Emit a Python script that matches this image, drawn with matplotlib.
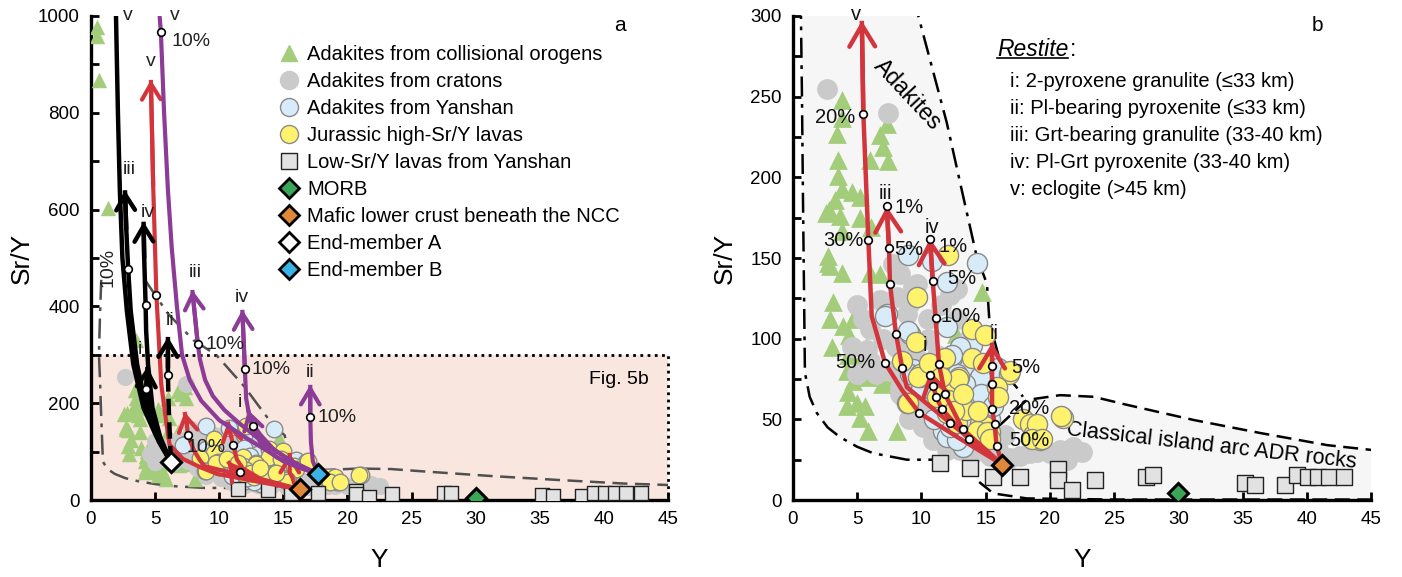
import matplotlib
matplotlib.use('Agg')
import matplotlib.pyplot as plt
from matplotlib.lines import Line2D
import numpy as np

plt.rcParams['font.family'] = ['Liberation Sans', 'DejaVu Sans']

# ---- samples: (Y ppm, Sr/Y) ----
collisional = [(0.47, 977), (0.5, 958), (0.62, 868), (1.3, 603), (3.53, 330),
               (3.79, 248), (3.79, 237), (3.4, 227), (7.3, 233), (6.78, 226),
               (7.03, 219), (6.0, 211), (7.4, 210), (3.5, 211), (3.5, 201),
               (3.8, 193), (4.57, 191), (5.2, 188), (3.27, 186), (2.6, 178),
               (3.66, 176), (5.2, 175), (6.1, 169), (3.8, 167), (2.7, 151),
               (2.75, 147), (3.8, 141), (6.0, 141), (6.78, 140), (3.14, 123),
               (2.9, 112), (4.7, 112), (3.9, 108), (4.4, 102), (3.0, 95),
               (5.7, 95), (4.3, 90), (4.96, 83), (4.2, 80), (4.7, 74),
               (5.86, 76), (6.9, 72), (7.55, 74), (7.8, 82), (4.3, 67),
               (4.2, 58), (4.96, 60), (5.6, 58), (5.2, 51), (5.86, 43),
               (8.1, 43), (14.7, 129), (12.7, 103), (2.8, 180), (2.9, 145)]
cratons = [(2.62, 255), (7.42, 240), (7.8, 146), (6.78, 124), (9.1, 122),
           (5.48, 112), (4.57, 95), (5.74, 93), (6.5, 78), (4.96, 78),
           (7.55, 80), (8.33, 70), (8.6, 64), (10.15, 45), (10.9, 37),
           (11.97, 33), (14.04, 29), (15.3, 27), (16.9, 26), (18.46, 29),
           (20.0, 29), (21.05, 30), (14.3, 83), (13.8, 101), (9.37, 132),
           (8.33, 140), (9.63, 134), (12.2, 127), (8.86, 115), (13.4, 97),
           (12.75, 131), (8.07, 126), (7.17, 123), (20.8, 31), (21.8, 33),
           (21.3, 25), (19.0, 30), (17.7, 27), (13.0, 31), (13.8, 29),
           (12.0, 31), (9.1, 68), (8.3, 66), (11.2, 90), (12.3, 70),
           (15.0, 60), (16.5, 40), (10.5, 100), (7.0, 100), (22.5, 30),
           (10.0, 60), (11.0, 45), (12.5, 50), (14.0, 40), (15.0, 35),
           (16.0, 31), (9.5, 90), (10.5, 112), (11.5, 121), (12.8, 112),
           (8.0, 95), (6.0, 106), (5.0, 121), (6.0, 86), (9.0, 50)]
yanshan = [(8.98, 152), (10.8, 148), (14.3, 147), (11.97, 135), (7.3, 115),
           (9.1, 103), (11.97, 107), (13.9, 96), (13.0, 89), (14.04, 81),
           (16.0, 82), (7.17, 114), (8.98, 105), (13.0, 95), (13.8, 83),
           (12.75, 78), (13.9, 72), (13.9, 64), (13.0, 58), (14.8, 54),
           (13.26, 33), (11.7, 43), (9.37, 81), (10.0, 69), (13.26, 63),
           (13.8, 60), (14.0, 69), (14.56, 76), (12.0, 39), (12.75, 37),
           (14.8, 52), (15.3, 50), (9.9, 76), (9.1, 78), (12.4, 90),
           (13.4, 72), (14.6, 66), (15.6, 58), (12.2, 45), (11.0, 50)]
jurassic = [(12.1, 152), (9.63, 126), (9.58, 98), (13.9, 106), (14.95, 102),
            (8.47, 86), (9.9, 78), (11.84, 88), (12.9, 76), (13.9, 88),
            (14.8, 85), (16.8, 78), (11.84, 70), (11.2, 64), (8.86, 60),
            (11.97, 54), (12.75, 48), (15.86, 70), (16.0, 64), (14.56, 48),
            (14.95, 46), (17.9, 50), (18.46, 47), (16.9, 80), (19.2, 37),
            (21.05, 51), (18.7, 40), (14.3, 43), (15.3, 42), (13.5, 56),
            (8.98, 60), (9.76, 76), (12.87, 75), (12.1, 62), (12.5, 55),
            (15.1, 42), (15.34, 38), (19.0, 47), (18.6, 38), (20.9, 52),
            (19.4, 38), (10.6, 85), (11.5, 76), (13.2, 66), (14.4, 55)]
low_sry = [(11.45, 23), (15.6, 14.4), (17.7, 14.4), (20.66, 19), (20.66, 12.4),
           (21.7, 6.2), (23.5, 12.4), (27.5, 14.4), (28.06, 15.5), (35.2, 10.3),
           (36.0, 9.3), (38.3, 9.3), (39.2, 15.5), (40.1, 14.4), (40.9, 14.4),
           (41.7, 14.4), (42.9, 14.4), (13.8, 20)]
morb = (30.0, 4.5)
mafic_crust = (16.3, 22.0)
member_a = (6.23, 78.0)
member_b = (17.7, 54.0)

# ---- melting-model paths (restite i-v) ----
red_paths = {
    'v':   [(16.3, 22), (13.0, 38), (9.84, 54), (8.5, 68), (7.17, 85), (6.13, 114),
            (5.87, 161), (5.48, 239), (5.1, 424), (4.85, 650), (4.67, 868)],
    'iii': [(16.3, 22), (12.2, 48), (8.86, 70), (8.5, 82), (8.02, 103), (7.55, 134),
            (7.48, 156), (7.3, 182)],
    'iv':  [(16.3, 22), (13.2, 44), (11.84, 65.5), (11.37, 84), (11.1, 113),
            (10.88, 136), (10.67, 162)],
    'i':   [(16.3, 22), (13.7, 37.6), (11.6, 56.4), (11.14, 64), (10.93, 70.7),
            (10.67, 80)],
    'ii':  [(16.3, 22), (15.85, 33.5), (15.7, 47), (15.5, 56.4), (15.5, 72),
            (15.5, 83), (15.5, 97.5)],
}
purple_paths = {
    'v':   [(17.7, 54), (15.0, 80), (13.9, 99), (12.0, 130), (10.0, 165), (8.6, 205),
            (7.7, 248), (7.1, 300), (6.7, 400), (6.3, 520), (6.0, 640), (5.7, 800),
            (5.45, 967), (5.35, 1000)],
    'iii': [(17.7, 54), (15.5, 82), (13.2, 124), (11.5, 160), (10.4, 186), (9.5, 215),
            (8.9, 248), (8.5, 290), (8.33, 322), (7.9, 434)],
    'iv':  [(17.7, 54), (16.0, 75), (14.3, 103), (13.2, 135), (12.4, 165), (12.1, 210),
            (12.0, 271), (11.8, 393)],
    'i':   [(17.7, 54), (16.3, 66), (14.5, 88), (13.3, 114), (12.6, 153), (12.25, 186)],
    'ii':  [(17.7, 54), (17.3, 80), (17.15, 120), (17.1, 172), (17.1, 238)],
}
black_paths = {
    'v':   [(6.23, 78), (5.1, 131), (4.1, 190), (3.3, 280), (2.8, 390), (2.45, 500),
            (2.25, 640), (2.1, 800), (1.95, 1000)],
    'iii': [(6.23, 78), (5.2, 130), (4.3, 190), (3.6, 280), (3.1, 390), (2.9, 477),
            (2.75, 560), (2.65, 640)],
    'iv':  [(6.23, 78), (5.4, 130), (4.8, 190), (4.45, 280), (4.3, 350), (4.26, 403),
            (4.15, 500), (4.1, 575)],
    'i':   [(6.23, 78), (5.3, 120), (4.7, 170), (4.3, 229), (4.4, 275)],
    'ii':  [(6.23, 78), (6.05, 200), (6.0, 258), (6.0, 337)],
}
# melt-fraction ticks
red_ticks_a = [(5.1, 424), (7.55, 134), (11.1, 113), (11.6, 58)]
red_ticks_b = [(5.48, 239), (5.87, 161), (7.17, 85), (7.3, 182), (7.48, 156),
               (7.55, 134), (8.02, 103), (8.5, 82), (9.84, 54), (12.2, 48),
               (10.67, 162), (10.88, 136), (11.1, 113), (11.37, 84), (11.84, 65.5),
               (13.2, 44), (10.67, 77.5), (10.93, 70.7), (11.14, 64), (11.6, 56.4),
               (13.7, 37.6), (15.5, 83), (15.5, 72), (15.5, 56.4), (15.7, 47),
               (15.85, 33.5)]
purple_ticks = [(5.45, 967), (8.33, 322), (12.0, 271), (12.6, 153), (17.1, 172)]
black_ticks = [(2.9, 477), (4.26, 403), (4.3, 229), (6.0, 258)]

# ---- field outlines ----
adakite_left = [(0.8, 455), (0.7, 380), (0.62, 300), (0.7, 250), (0.78, 186),
                (0.93, 79), (1.3, 64), (1.85, 54), (2.7, 45), (3.66, 39), (5.0, 33),
                (6.25, 29), (8.86, 25), (11.45, 25), (13.5, 27)]
adakite_right = [(4.2, 455), (6.0, 385), (8.0, 330), (9.76, 300), (11.97, 234),
                 (13.2, 190), (14.3, 151), (15.1, 134), (15.3, 110), (16.36, 79),
                 (17.4, 70), (17.9, 64)]
adr_top = [(17.9, 64), (18.2, 62), (20.8, 65), (23.4, 64), (26.0, 59), (31.2, 49.6),
           (36.4, 41.5), (41.6, 34), (45.1, 31)]
adr_left = [(13.5, 27), (14.0, 24), (14.3, 12.4), (15.6, 4.1), (18.2, 1), (25, 0.3),
            (45.1, 0.3)]

legend_labels = ['Adakites from collisional orogens', 'Adakites from cratons',
                 'Adakites from Yanshan', 'Jurassic high-Sr/Y lavas',
                 'Low-Sr/Y lavas from Yanshan', 'MORB',
                 'Mafic lower crust beneath the NCC', 'End-member A', 'End-member B']
restite_lines = ['i: 2-pyroxene granulite (≤33 km)', 'ii: Pl-bearing pyroxenite (≤33 km)',
                 'iii: Grt-bearing granulite (33-40 km)', 'iv: Pl-Grt pyroxenite (33-40 km)',
                 'v: eclogite (>45 km)']

GREEN = '#a4cd7b'
GRAY = '#cacaca'
LBLUE = '#d7ebf8'
YELLOW = '#fff36e'
SQ = '#e2e2e2'
RED = '#d2353b'
PURPLE = '#8c3b96'
PINK = '#f9e6df'


def xy(pts):
    a = np.array(pts, dtype=float)
    return a[:, 0], a[:, 1]


def draw_path(ax, pts, color, lw, head=True, ls='-', ms=20):
    x, y = xy(pts)
    ax.plot(x, y, color=color, lw=lw, ls=ls, solid_capstyle='butt',
            solid_joinstyle='round', zorder=6)
    if head:
        ax.annotate('', xy=(x[-1], y[-1]), xytext=(x[-2], y[-2]),
                    arrowprops=dict(arrowstyle='->,head_length=0.7,head_width=0.42',
                                    color=color, lw=lw, shrinkA=0, shrinkB=0,
                                    mutation_scale=ms), zorder=6)


def ticks(ax, pts):
    x, y = xy(pts)
    ax.plot(x, y, 'o', ms=5.5, mfc='white', mec='black', mew=1.2, zorder=8)


def scatter_all(ax, k):
    x, y = xy(collisional)
    ax.scatter(x, y, marker='^', s=130 * k, c=GREEN, lw=0, zorder=3)
    x, y = xy(cratons)
    ax.scatter(x, y, marker='o', s=160 * k, c=GRAY, lw=0, zorder=3)
    x, y = xy(yanshan)
    ax.scatter(x, y, marker='o', s=150 * k, c=LBLUE, edgecolors='#8a8a8a', lw=1, zorder=4)
    x, y = xy(jurassic)
    ax.scatter(x, y, marker='o', s=150 * k, c=YELLOW, edgecolors='#8a8a8a', lw=1, zorder=4)
    x, y = xy(low_sry)
    ax.scatter(x, y, marker='s', s=105 * k, c=SQ, edgecolors='#222222', lw=1, zorder=4)
    ax.plot(*morb, 'D', ms=10, mfc='#3aa757', mec='black', mew=2.2, zorder=9)
    ax.plot(*mafic_crust, 'D', ms=10, mfc='#e0883a', mec='black', mew=2.2, zorder=9)


def style(ax, ymax, ymajor, yminor, ypad):
    ax.set_xlim(0, 45)
    ax.set_ylim(0, ymax)
    for s in ('top', 'right'):
        ax.spines[s].set_visible(False)
    for s in ('left', 'bottom'):
        ax.spines[s].set_linewidth(2.4)
    ax.set_xticks(np.arange(0, 46, 5))
    ax.set_yticks(np.arange(0, ymax + 1, ymajor))
    ax.set_yticks(np.arange(0, ymax + 1, yminor), minor=True)
    ax.tick_params(which='both', direction='in', length=6, width=2, labelsize=13.5, pad=8)
    ax.set_xlabel('Y', fontsize=19, labelpad=14)
    ax.set_ylabel('Sr/Y', fontsize=19, labelpad=ypad)


fig = plt.figure(figsize=(14.02, 5.77), dpi=100)
ax_a = fig.add_axes([0.0649, 0.1334, 0.4116, 0.8389])
ax_b = fig.add_axes([0.5656, 0.1334, 0.4123, 0.8389])

# ================= panel a =================
ax_a.axhspan(0, 300, color=PINK, lw=0, zorder=0)
ax_a.plot([0, 45, 45], [300, 300, 0], color='black', ls=(0, (1, 1.6)), lw=2, zorder=1,
          clip_on=False)
ax_a.text(41.2, 248, 'Fig. 5b', fontsize=14, ha='center', va='center')
x, y = xy(adakite_left)
ax_a.plot(x, y, color='#505050', lw=1.8, ls=(0, (8, 3, 1.5, 3)), zorder=2)
x, y = xy(adakite_right)
ax_a.plot(x, y, color='#505050', lw=1.8, ls=(0, (8, 3, 1.5, 3)), zorder=2)
x, y = xy(adr_top)
ax_a.plot(x, y, color='#505050', lw=1.8, ls=(0, (6, 3)), zorder=2)
scatter_all(ax_a, 0.95)

for name, pts in red_paths.items():
    draw_path(ax_a, pts, RED, 3, ms=16)
for name, pts in purple_paths.items():
    draw_path(ax_a, pts, PURPLE, 3, head=(name != 'v'), ms=16)
for name, pts in black_paths.items():
    draw_path(ax_a, pts, 'black', 3.2, head=(name != 'v'), ls=('--' if name == 'ii' else '-'),
              ms=16)
ticks(ax_a, red_ticks_a + purple_ticks + black_ticks)
ax_a.plot(*member_a, 'D', ms=10, mfc='white', mec='black', mew=2.2, zorder=9)
ax_a.plot(*member_b, 'D', ms=10, mfc='#3bb2e6', mec='black', mew=2.2, zorder=9)

lab = dict(fontsize=14, color='#222222', zorder=10)
ax_a.text(2.9, 1000, 'v', ha='center', va='center', **lab)
ax_a.text(6.5, 1000, 'v', ha='center', va='center', **lab)
ax_a.text(6.3, 948, '10%', ha='left', va='center', **lab)
ax_a.text(4.67, 905, 'v', ha='center', va='center', **lab)
ax_a.text(2.96, 682, 'iii', ha='center', va='center', **lab)
ax_a.text(4.44, 593, 'iv', ha='center', va='center', **lab)
ax_a.text(1.3, 480, '10%', rotation=90, ha='center', va='center', **lab)
ax_a.text(8.1, 471, 'iii', ha='center', va='center', **lab)
ax_a.text(8.9, 322, '10%', ha='left', va='center', **lab)
ax_a.text(11.76, 419, 'iv', ha='center', va='center', **lab)
ax_a.text(12.5, 269, '10%', ha='left', va='center', **lab)
ax_a.text(6.15, 370, 'ii', ha='center', va='center', **lab)
ax_a.text(3.8, 310, 'i', ha='center', va='center', **lab)
ax_a.text(17.1, 264, 'ii', ha='center', va='center', **lab)
ax_a.text(17.7, 171, '10%', ha='left', va='center', **lab)
ax_a.text(11.6, 202, 'i', ha='center', va='center', **lab)
ax_a.text(9.0, 108, '10%', ha='center', va='center', **lab)
ax_a.text(0.917, 0.981, 'a', transform=ax_a.transAxes, fontsize=15, ha='center', va='center')

handles = [
    Line2D([], [], ls='none', marker='^', ms=12, mfc=GREEN, mec=GREEN),
    Line2D([], [], ls='none', marker='o', ms=13, mfc=GRAY, mec=GRAY),
    Line2D([], [], ls='none', marker='o', ms=13, mfc=LBLUE, mec='#8a8a8a'),
    Line2D([], [], ls='none', marker='o', ms=13, mfc=YELLOW, mec='#8a8a8a'),
    Line2D([], [], ls='none', marker='s', ms=11, mfc=SQ, mec='#222222'),
    Line2D([], [], ls='none', marker='D', ms=10, mfc='#3aa757', mec='black', mew=2),
    Line2D([], [], ls='none', marker='D', ms=10, mfc='#e0883a', mec='black', mew=2),
    Line2D([], [], ls='none', marker='D', ms=10, mfc='white', mec='black', mew=2),
    Line2D([], [], ls='none', marker='D', ms=10, mfc='#3bb2e6', mec='black', mew=2),
]
ax_a.legend(handles, legend_labels, loc='upper left', bbox_to_anchor=(0.3276, 0.94),
            frameon=False, fontsize=14.5, handlelength=0.9, handletextpad=0.45,
            labelspacing=0.395, borderpad=0, borderaxespad=0)
style(ax_a, 1000, 200, 100, 3)

# ================= panel b =================
lx, ly = xy(adakite_left)
rx, ry = xy(adakite_right)
ax_b.fill(np.r_[lx, rx[::-1]], np.r_[ly, ry[::-1]], color='#f6f6f6', lw=0, zorder=0)
tx, ty = xy(adr_top)
bx, by = xy(adr_left)
ax_b.fill(np.r_[bx, tx[::-1]], np.r_[by, ty[::-1]], color='#f6f6f6', lw=0, zorder=0)
ax_b.plot(lx, ly, color='black', lw=1.8, ls=(0, (8, 3, 1.5, 3)), zorder=2)
ax_b.plot(rx, ry, color='black', lw=1.8, ls=(0, (8, 3, 1.5, 3)), zorder=2)
ax_b.plot(np.r_[bx[::-1], tx[1:]], np.r_[by[::-1], ty[1:]], color='black',
          lw=1.8, ls=(0, (6, 3)), zorder=2)
scatter_all(ax_b, 1.4)

for name, pts in red_paths.items():
    x, y = xy(pts)
    keep = y <= 300
    if keep.all():
        draw_path(ax_b, pts, RED, 3.2, ms=22)
    else:
        i = np.argmax(~keep)
        yt = 297
        xt = np.interp(yt, [y[i - 1], y[i]], [x[i - 1], x[i]])
        draw_path(ax_b, list(zip(x[:i], y[:i])) + [(xt, yt)], RED, 3.2, ms=22)
ticks(ax_b, red_ticks_b)

lab = dict(fontsize=14.5, color='#111111', zorder=10)
ax_b.text(4.9, 301, 'v', ha='center', va='center', **lab)
ax_b.text(8.9, 251, 'Adakites', rotation=-47, ha='center', va='center', fontsize=16.5)
ax_b.text(3.27, 237, '20%', ha='center', va='center', **lab)
ax_b.text(3.9, 161, '30%', ha='center', va='center', **lab)
ax_b.text(7.16, 190, 'iii', ha='center', va='center', **lab)
ax_b.text(7.9, 181, '1%', ha='left', va='center', **lab)
ax_b.text(7.9, 155, '5%', ha='left', va='center', **lab)
ax_b.text(10.83, 169, 'iv', ha='center', va='center', **lab)
ax_b.text(11.3, 157, '1%', ha='left', va='center', **lab)
ax_b.text(12.0, 137, '5%', ha='left', va='center', **lab)
ax_b.text(11.5, 114, '10%', ha='left', va='center', **lab)
ax_b.text(10.28, 96, 'i', ha='center', va='center', **lab)
ax_b.text(4.83, 85, '50%', ha='center', va='center', **lab)
ax_b.text(15.65, 103, 'ii', ha='center', va='center', **lab)
ax_b.text(17.0, 82, '5%', ha='left', va='center', **lab)
ax_b.text(16.8, 57, '20%', ha='left', va='center', **lab)
ax_b.text(16.8, 37, '50%', ha='left', va='center', **lab)
ax_b.text(32.6, 33.5, 'Classical island arc ADR rocks', rotation=-6.5, ha='center',
          va='center', fontsize=15.5)
ax_b.text(0.908, 0.981, 'b', transform=ax_b.transAxes, fontsize=15, ha='center', va='center')

rt = ax_b.text(0.353, 0.93, 'Restite', style='italic', fontsize=16.5,
               transform=ax_b.transAxes, ha='left', va='center')
colon = ax_b.text(0.48, 0.93, ':', fontsize=16.5, transform=ax_b.transAxes,
                  ha='left', va='center')
for i, s in enumerate(restite_lines):
    ax_b.text(0.375, 0.864 - i * 0.0555, s, fontsize=14.5, transform=ax_b.transAxes,
              ha='left', va='center')
style(ax_b, 300, 50, 25, 10)

fig.canvas.draw()
bb = rt.get_window_extent().transformed(ax_b.transAxes.inverted())
ax_b.plot([bb.x0, bb.x1], [bb.y0 + 0.006, bb.y0 + 0.006], color='black', lw=1.2,
          transform=ax_b.transAxes, clip_on=False)
colon.set_position((bb.x1 + 0.002, 0.93))

fig.savefig('out.png', dpi=100)
